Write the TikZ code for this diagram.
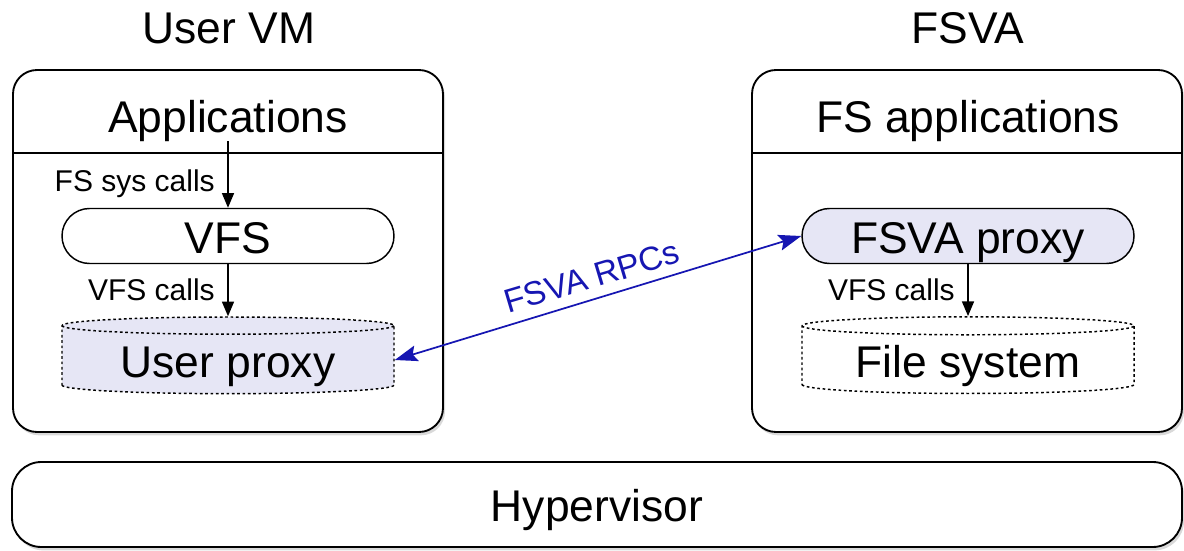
\documentclass[tikz,border=0pt]{standalone}
\usepackage{fontspec}
\setmainfont{Liberation Sans}
\usetikzlibrary{shapes.geometric,shapes.misc,shadows,arrows.meta}
\definecolor{proxyfill}{RGB}{230,230,245}
\definecolor{rpcblue}{RGB}{22,22,178}
\tikzset{
  bigtext/.style={font=\fontsize{33.3}{38}\selectfont,inner sep=0pt},
  smalltext/.style={font=\fontsize{22.5}{26}\selectfont,inner sep=0pt},
  vmbox/.style={draw,line width=1.4pt,rounded corners=18pt,fill=white,
    drop shadow={shadow xshift=1.5pt,shadow yshift=-2.5pt,opacity=0.3}},
  layer/.style={rounded rectangle,draw,line width=1.1pt,minimum width=249pt,
    minimum height=41.25pt,inner sep=0pt,bigtext,text height=26pt,text depth=0pt},
  store/.style={cylinder,shape border rotate=90,aspect=0.08,draw,line width=1.1pt,
    dash pattern=on 2pt off 2pt,minimum width=249pt,minimum height=57.5pt,
    inner sep=0pt,bigtext,text height=26pt,text depth=0pt},
  call/.style={-{Triangle[length=11pt,width=9pt]},line width=1.1pt},
}
\begin{document}
\begin{tikzpicture}[x=0.75pt,y=0.75pt,yscale=-1,xscale=1]
\useasboundingbox (0,0) rectangle (1184,550);

%Shape: Rounded Rect [id:uservm]
\node [vmbox,minimum width=322.5pt,minimum height=271.5pt] (uservm) at (228,251) {};
\draw [line width=1.1pt] (uservm.west |- 0,153) -- (uservm.east |- 0,153) ;
%Shape: Rounded Rect [id:fsva]
\node [vmbox,minimum width=322.5pt,minimum height=271.5pt] (fsva) at (967,251) {};
\draw [line width=1.1pt] (fsva.west |- 0,153) -- (fsva.east |- 0,153) ;
%Shape: Rounded Rect [id:hypervisor]
\node [vmbox,rounded corners=22pt,minimum width=877.5pt,minimum height=63.75pt,bigtext,text height=26pt,text depth=0pt] (hyper) at (597,504.5) {Hypervisor};

% Text Node
\node [bigtext,anchor=base] (uservmtitle) at (229,43) {User VM};
% Text Node
\node [bigtext,anchor=base] (fsvatitle) at (968,43) {FSVA};
% Text Node
\node [bigtext,anchor=base] (apps) at (228,132) {Applications};
% Text Node
\node [bigtext,anchor=base] (fsapps) at (968,132) {FS applications};

%Shape: Ellipse [id:vfs]
\node [layer] (vfs) at (228,236) {VFS};
%Shape: Ellipse [id:fsvaproxy]
\node [layer,fill=proxyfill] (fsvaproxy) at (968,236) {FSVA proxy};
%Shape: Can [id:userproxy]
\node [store,fill=proxyfill] (userproxy) at (228,360) {User proxy};
%Shape: Can [id:filesystem]
\node [store] (filesys) at (968,360) {File system};

%Straight Lines [id:calls]
\draw [call] (apps.south) -- (vfs.north) ;
\draw [call] (vfs.south) -- (userproxy.north) ;
\draw [call] (fsvaproxy.south) -- (filesys.north) ;
% Text Node
\node [smalltext,anchor=base east] (fssyscalls) at (215,191) {FS sys calls};
% Text Node
\node [smalltext,anchor=base east] (vfscalls) at (215,300) {VFS calls};
% Text Node
\node [smalltext,anchor=base east] (fsvacalls) at (955,300) {VFS calls};

%Straight Lines [id:rpc]
\draw [rpcblue,line width=1.3pt,{Stealth[length=17pt,width=12pt,inset=3pt]}-{Stealth[length=17pt,width=12pt,inset=3pt]}]
  (userproxy.east) -- node [midway,rotate=16.6,anchor=south,inner xsep=0pt,inner ysep=7pt,font=\fontsize{25}{30}\selectfont] (rpclabel) {FSVA RPCs} (fsvaproxy.west) ;

\end{tikzpicture}
\end{document}
